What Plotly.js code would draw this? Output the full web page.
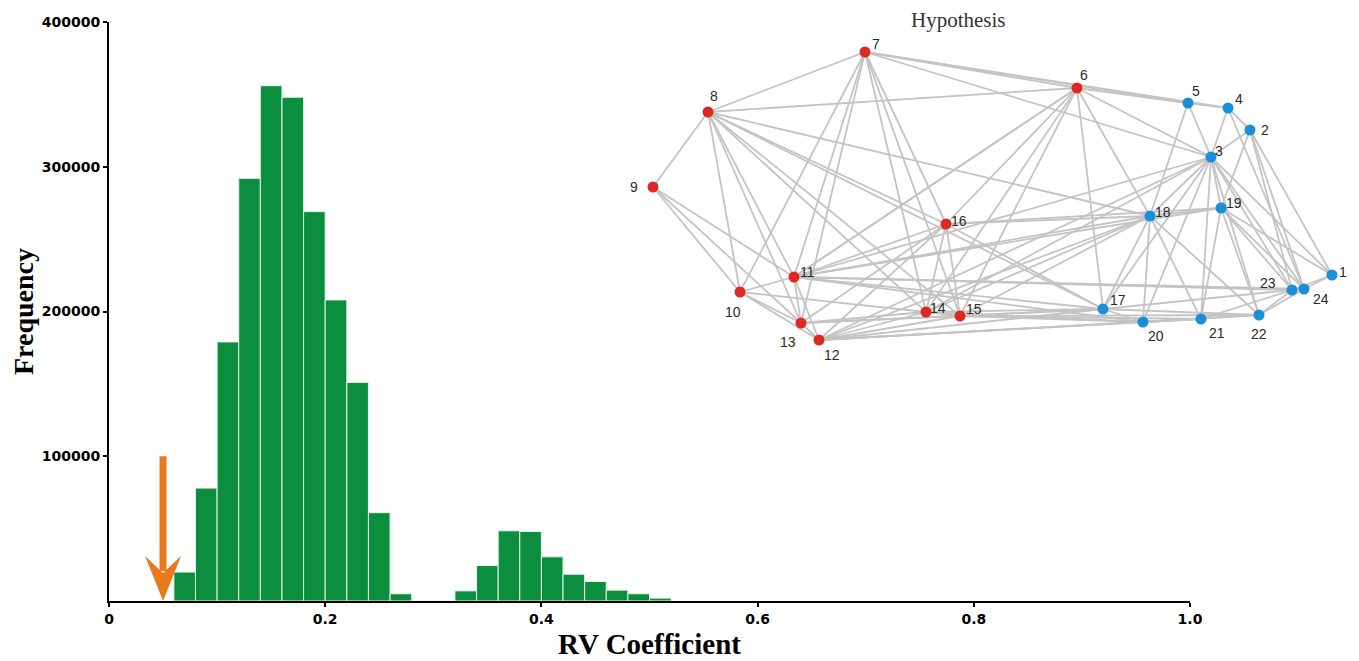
<!DOCTYPE html>
<html>
<head>
<meta charset="utf-8">
<script src="https://cdn.plot.ly/plotly-3.0.1.min.js"></script>
<style>html,body{margin:0;padding:0;background:#fff;}#chart{width:1359px;height:661px;}</style>
</head>
<body>
<div id="chart"></div>
<script>
// ---------- Histogram data ----------
const binLeft   = [0.06, 0.08, 0.10, 0.12, 0.14, 0.16, 0.18, 0.20, 0.22, 0.24, 0.26, 0.28, 0.30, 0.32, 0.34, 0.36, 0.38, 0.40, 0.42, 0.44, 0.46, 0.48, 0.50];
const binCounts = [20000, 78000, 179000, 292000, 356000, 348000, 269000, 208000, 151000, 61000, 5000, 0, 0, 7000, 24500, 48500, 48000, 30500, 18500, 13500, 7500, 5000, 2000];
const binWidth = 0.02;
const xTickVals = [0, 0.2, 0.4, 0.6, 0.8, 1.0];
const xTickText = ['0', '0.2', '0.4', '0.6', '0.8', '1.0'];
const yTickVals = [100000, 200000, 300000, 400000];
const yTickText = ['100000', '200000', '300000', '400000'];
// observed value marker (orange arrow)
const observedRV = 0.05;
const arrowTopFreq = 100000;

// ---------- Network (Hypothesis) data ----------
const nodeIds = ['1','2','3','4','5','6','7','8','9','10','11','12','13','14','15','16','17','18','19','20','21','22','23','24'];
const nodeX = [692, 610, 571, 588, 548, 437, 225, 68, 13, 100, 154, 179, 161, 286, 320, 306, 463, 510, 581, 503, 561, 619, 652, 664];
const nodeY = [85, 230, 203, 252, 257, 272, 308, 248, 173, 68, 83, 20, 37, 48, 44, 136, 51, 144, 152, 38, 41, 45, 70, 71];
const nodeGroup = ['B','B','B','B','B','R','R','R','R','R','R','R','R','R','R','R','B','B','B','B','B','B','B','B'];
const edges = [
  [8,7],[8,9],[8,10],[8,11],[8,13],[8,6],[8,16],[8,18],[8,14],[8,15],[8,17],
  [9,10],[9,11],[9,13],
  [10,11],[10,13],[10,12],[10,14],[10,7],
  [11,13],[11,12],[11,16],[11,7],[11,6],
  [7,6],[7,5],[7,4],[7,3],[7,13],[7,14],[7,15],[7,16],
  [6,5],[6,3],[6,18],[6,17],[6,15],[6,14],[6,11],[6,16],
  [16,14],[16,15],[16,18],[16,17],[16,12],[16,13],[16,19],
  [12,13],[12,14],[12,15],[12,17],[12,20],[12,21],[12,22],[12,18],[12,3],
  [13,14],[13,15],[13,17],
  [11,18],[11,19],[11,17],[11,20],[11,23],[11,24],[11,3],
  [14,15],[14,17],[14,20],[14,3],[14,18],
  [15,17],[15,20],[15,21],[15,22],[15,18],
  [5,4],[5,3],[5,18],
  [4,2],[4,3],[4,24],
  [2,3],[2,19],[2,1],[2,24],[2,23],
  [3,18],[3,19],[3,17],[3,20],[3,21],[3,22],[3,23],[3,24],[3,1],
  [19,18],[19,21],[19,22],[19,23],[19,24],[19,1],
  [18,17],[18,20],[18,21],[18,22],
  [17,20],[17,22],[17,23],
  [20,21],[20,22],
  [21,23],
  [22,23],[22,24],
  [23,24],[24,1],[23,1]
];
// label offsets in screen pixels (style)
const labelDX = [11, 15, 8, 11, 8, 7, 11, 6, -19, -7, 13, 13, -13, 12, 14, 13, 15, 13, 13, 13, 16, 0, -24, 17];
const labelDY = [3, 0, 6, 9, 12, 13, 8, 16, 0, -20, 5, -15, -19, 4, 7, 3, 9, 4, 5, -14, -14, -19, 7, -10];

// ---------- Build traces ----------
const GREEN = '#0b8f3e';
const ORANGE = '#e8791d';
const RED = '#dc2a21';
const BLUE = '#1b8ed8';

const barTrace = {
  type: 'bar',
  x: binLeft.map(v => v + binWidth / 2),
  y: binCounts,
  width: binWidth,
  marker: {color: GREEN, line: {color: '#e6f4ea', width: 1}},
  xaxis: 'x', yaxis: 'y',
  hoverinfo: 'x+y'
};

const ex = [], ey = [];
edges.forEach(([a, b]) => {
  ex.push(nodeX[a - 1], nodeX[b - 1], null);
  ey.push(nodeY[a - 1], nodeY[b - 1], null);
});
const edgeTrace = {
  type: 'scatter', mode: 'lines', x: ex, y: ey,
  line: {color: '#c4c4c4', width: 1.8},
  xaxis: 'x2', yaxis: 'y2', hoverinfo: 'skip'
};
const nodeTrace = {
  type: 'scatter', mode: 'markers',
  x: nodeX, y: nodeY, text: nodeIds,
  marker: {size: 11, color: nodeGroup.map(g => g === 'R' ? RED : BLUE), line: {width: 0}},
  xaxis: 'x2', yaxis: 'y2', cliponaxis: false, hoverinfo: 'text'
};

const nodeLabels = nodeIds.map((t, i) => ({
  text: t, xref: 'x2', yref: 'y2', x: nodeX[i], y: nodeY[i],
  xshift: labelDX[i], yshift: labelDY[i], showarrow: false,
  xanchor: 'center', yanchor: 'middle',
  font: {family: 'Liberation Sans, Arial, sans-serif', size: 14, color: '#2a2a2a'}
}));

// ---------- Arrow shapes (from observedRV / arrowTopFreq) ----------
const pxPerX = 1081;          // px per unit RV
const pxPerY = 579 / 400000;  // px per frequency unit
const headLen = 45 / pxPerY, notch = 28 / pxPerY, halfW = 18 / pxPerX;
const shapes = [
  {type: 'line', xref: 'x', yref: 'y', x0: observedRV, x1: observedRV, y0: arrowTopFreq, y1: notch + 2 / pxPerY,
   line: {color: ORANGE, width: 7}},
  {type: 'path', xref: 'x', yref: 'y', fillcolor: ORANGE, line: {width: 0},
   path: `M ${observedRV},0 L ${observedRV - halfW},${headLen} L ${observedRV},${notch} L ${observedRV + halfW},${headLen} Z`}
];

const layout = {
  width: 1359, height: 661,
  margin: {l: 109, r: 10, t: 5, b: 60},
  paper_bgcolor: '#ffffff', plot_bgcolor: 'rgba(0,0,0,0)',
  showlegend: false,
  bargap: 0,
  xaxis: {
    domain: [0, 1081 / 1240], range: [0, 1], anchor: 'y',
    tickvals: xTickVals, ticktext: xTickText,
    showline: true, linecolor: '#000', linewidth: 2,
    ticks: 'outside', ticklen: 4, tickwidth: 2, tickcolor: '#000',
    showgrid: false, zeroline: false,
    tickfont: {family: 'DejaVu Sans, Verdana, sans-serif', size: 14, weight: 'bold', color: '#000'},
    title: {text: 'RV Coefficient', standoff: 8,
      font: {family: 'Liberation Serif, Times New Roman, serif', size: 29, weight: 'bold', color: '#000'}}
  },
  yaxis: {
    domain: [0, 579 / 596], range: [0, 400000], anchor: 'x',
    tickvals: yTickVals, ticktext: yTickText,
    showline: true, linecolor: '#000', linewidth: 2,
    ticks: 'outside', ticklen: 4, tickwidth: 2, tickcolor: '#000',
    showgrid: false, zeroline: false,
    tickfont: {family: 'DejaVu Sans, Verdana, sans-serif', size: 14, weight: 'bold', color: '#000'},
    title: {text: 'Frequency', standoff: 0,
      font: {family: 'Liberation Serif, Times New Roman, serif', size: 28, weight: 'bold', color: '#000'}}
  },
  xaxis2: {domain: [0, 1], range: [-531, 709], anchor: 'y2', visible: false, fixedrange: true},
  yaxis2: {domain: [0, 1], range: [-241, 355], anchor: 'x2', visible: false, fixedrange: true},
  shapes: shapes,
  annotations: [{
    text: 'Hypothesis', xref: 'paper', yref: 'paper',
    x: (958 - 109) / 1240, y: (601 - 20) / 596, xanchor: 'center', yanchor: 'middle',
    showarrow: false,
    font: {family: 'Liberation Serif, Times New Roman, serif', size: 21, color: '#333'}
  }].concat(nodeLabels)
};

Plotly.newPlot('chart', [barTrace, edgeTrace, nodeTrace], layout, {displayModeBar: false, staticPlot: true});
</script>
</body>
</html>
